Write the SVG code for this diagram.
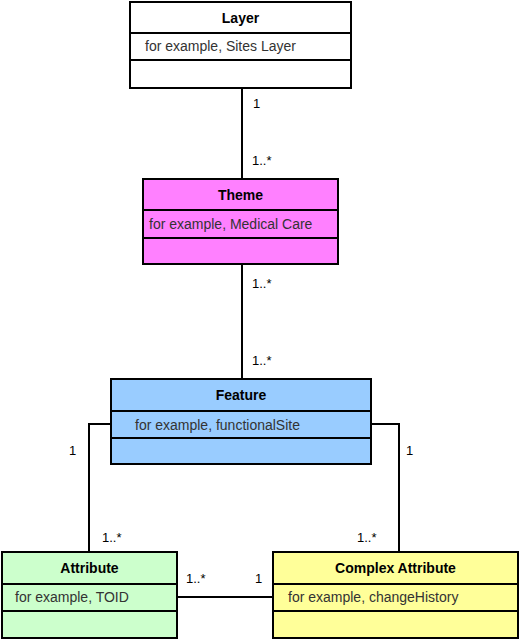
<svg xmlns="http://www.w3.org/2000/svg" width="528" height="642" viewBox="0 0 528 642">
<style>
.b{stroke:#000;stroke-width:2}
.t{font-family:"Liberation Sans",Arial,sans-serif;font-size:14px;font-weight:bold;fill:#000;text-anchor:middle}
.a{font-family:"Liberation Sans",Arial,sans-serif;font-size:14px;fill:#333}
.l{font-family:"Liberation Sans",Arial,sans-serif;font-size:13px;fill:#000}
.c{fill:none;stroke:#000;stroke-width:2}
</style>
<rect width="528" height="642" fill="#fff"/>
<g id="connectors">
<path class="c" d="M242 88V179M242 264V379M111 424H89V552M371 424H399V552M177 597H273"/>
<text class="l" x="253" y="108">1</text>
<text class="l" x="252" y="165">1..*</text>
<text class="l" x="252" y="288">1..*</text>
<text class="l" x="252" y="365">1..*</text>
<text class="l" x="69" y="455">1</text>
<text class="l" x="102" y="542">1..*</text>
<text class="l" x="406" y="455">1</text>
<text class="l" x="357" y="542">1..*</text>
<text class="l" x="186" y="583">1..*</text>
<text class="l" x="255" y="583">1</text>
</g>
<g id="layer">
<rect class="b" x="130" y="2" width="221" height="86" fill="#fff"/>
<path class="b" d="M130 33H351M130 60H351"/>
<text class="t" x="240.5" y="23">Layer</text>
<text class="a" x="145" y="51">for example, Sites Layer</text>
</g>
<g id="theme">
<rect class="b" x="143" y="179" width="195" height="85" fill="#ff80ff"/>
<path class="b" d="M143 210H338M143 238H338"/>
<text class="t" x="240.5" y="200">Theme</text>
<text class="a" x="149" y="229">for example, Medical Care</text>
</g>
<g id="feature">
<rect class="b" x="111" y="379" width="260" height="85" fill="#99ccff"/>
<path class="b" d="M111 411H371M111 438H371"/>
<text class="t" x="241" y="400">Feature</text>
<text class="a" x="135" y="430">for example, functionalSite</text>
</g>
<g id="attribute">
<rect class="b" x="2" y="552" width="175" height="86" fill="#ccffcc"/>
<path class="b" d="M2 584H177M2 611H177"/>
<text class="t" x="89.5" y="573">Attribute</text>
<text class="a" x="15" y="602">for example, TOID</text>
</g>
<g id="complex">
<rect class="b" x="273" y="552" width="245" height="86" fill="#ffff99"/>
<path class="b" d="M273 584H518M273 611H518"/>
<text class="t" x="395.5" y="573">Complex Attribute</text>
<text class="a" x="288" y="602">for example, changeHistory</text>
</g>
</svg>
